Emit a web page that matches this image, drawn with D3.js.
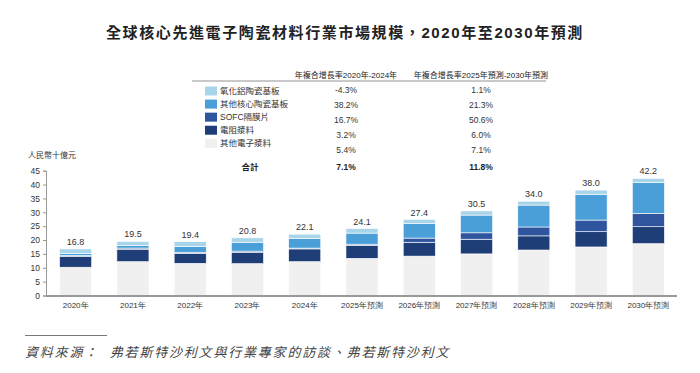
<!DOCTYPE html>
<html>
<head>
<meta charset="utf-8">
<script src="https://cdn.jsdelivr.net/npm/d3@7"></script>
<style>
    body { margin: 0; background: #fff; }
    svg { font-family: "Liberation Sans", Arial, "Noto Sans CJK TC", sans-serif; }
</style>
</head>
<body>
<svg id="chart" width="700" height="373"></svg>
<script>
'use strict';

// chart data
const years = ['2020年', '2021年', '2022年', '2023年', '2024年', '2025年預測', '2026年預測', '2027年預測', '2028年預測', '2029年預測', '2030年預測'];
const totals = [16.8, 19.5, 19.4, 20.8, 22.1, 24.1, 27.4, 30.5, 34.0, 38.0, 42.2];

// segments, bottom to top
const otherElectronic = [10.2, 12.2, 11.6, 11.5, 12.2, 13.4, 14.2, 15.0, 16.4, 17.5, 18.7];
const resistorPaste = [3.9, 4.5, 3.6, 4.1, 4.6, 4.7, 5.0, 5.3, 5.1, 5.5, 6.1];
const sofcMembrane = [0.3, 0.4, 0.4, 0.4, 0.3, 0.4, 1.5, 2.3, 3.2, 4.2, 4.8];
const otherCoreSubstrate = [0.8, 0.9, 2.0, 3.2, 3.5, 4.0, 5.2, 6.4, 7.9, 9.3, 11.1];
const aluminaSubstrate = [1.6, 1.5, 1.8, 1.6, 1.5, 1.6, 1.5, 1.5, 1.4, 1.5, 1.5];

// legend / CAGR table
const seriesNames = ['氧化鋁陶瓷基板', '其他核心陶瓷基板', 'SOFC隔膜片', '電阻漿料', '其他電子漿料'];
const cagrHeaders = ['年複合增長率2020年-2024年', '年複合增長率2025年預測-2030年預測'];
const cagr2020_2024 = ['-4.3%', '38.2%', '16.7%', '3.2%', '5.4%'];
const cagr2025_2030 = ['1.1%', '21.3%', '50.6%', '6.0%', '7.1%'];
const cagrTotal = ['7.1%', '11.8%'];

const yTicks = [0, 5, 10, 15, 20, 25, 30, 35, 40, 45];

const colors = {
    alumina: '#a9d5ea',
    core: '#4a9fd9',
    sofc: '#30559f',
    resistor: '#1f3e78',
    other: '#f0f0f0'
};

const svg = d3.select('#chart');

// title
svg.append('text')
    .attr('x', 345)
    .attr('y', 38)
    .attr('text-anchor', 'middle')
    .attr('font-size', 15)
    .attr('font-weight', 'bold')
    .attr('letter-spacing', 1.6)
    .attr('fill', '#222')
    .text('全球核心先進電子陶瓷材料行業市場規模，2020年至2030年預測');

// build table rows for stacking
const keys = ['other', 'resistor', 'sofc', 'core', 'alumina'];
const rows = years.map((y, i) => ({
    year: y,
    other: otherElectronic[i],
    resistor: resistorPaste[i],
    sofc: sofcMembrane[i],
    core: otherCoreSubstrate[i],
    alumina: aluminaSubstrate[i],
    total: totals[i]
}));

const stacked = d3.stack().keys(keys)(rows);

// scales
const x = d3.scaleBand()
    .domain(years)
    .range([47, 677])
    .paddingInner(0.44)
    .paddingOuter(0.22);

const y = d3.scaleLinear()
    .domain([0, 45])
    .range([295.5, 170.7]);

// bars
svg.append('g')
    .selectAll('g')
    .data(stacked)
    .enter()
    .append('g')
    .attr('fill', d => colors[d.key])
    .selectAll('rect')
    .data(d => d)
    .enter()
    .append('rect')
    .attr('x', d => x(d.data.year))
    .attr('width', x.bandwidth())
    .attr('y', d => y(d[1]))
    .attr('height', d => y(d[0]) - y(d[1]))
    .attr('stroke', '#fff')
    .attr('stroke-width', 0.6);

// total labels
svg.append('g')
    .selectAll('text')
    .data(rows)
    .enter()
    .append('text')
    .attr('x', d => x(d.year) + x.bandwidth() / 2)
    .attr('y', d => y(d3.sum(keys, k => d[k])) - 4)
    .attr('text-anchor', 'middle')
    .attr('font-size', 9)
    .attr('fill', '#333')
    .text(d => d.total.toFixed(1));

// y axis
const yAxis = svg.append('g')
    .attr('transform', 'translate(46,0)')
    .call(d3.axisLeft(y).tickValues(yTicks).tickSize(3).tickPadding(3));
yAxis.select('.domain').attr('stroke', '#999');
yAxis.selectAll('.tick line').attr('stroke', '#999');
yAxis.selectAll('.tick text')
    .attr('font-size', 8.5)
    .attr('fill', '#333')
    .attr('font-family', null);

// x axis
const xAxis = svg.append('g')
    .attr('transform', 'translate(0,296)')
    .call(d3.axisBottom(x).tickSize(0).tickPadding(6));
xAxis.select('.domain')
    .attr('stroke', '#999')
    .attr('stroke-width', 2)
    .attr('d', 'M46,0H677');
xAxis.selectAll('.tick text')
    .attr('font-size', 8)
    .attr('fill', '#333')
    .attr('font-family', null);

// y axis unit
svg.append('text')
    .attr('x', 28)
    .attr('y', 158)
    .attr('font-size', 8)
    .attr('fill', '#333')
    .text('人民幣十億元');

// legend + CAGR table
const table = svg.append('g');
const col1 = 346;
const col2 = 481;

table.selectAll('text.head')
    .data(cagrHeaders)
    .enter()
    .append('text')
    .attr('class', 'head')
    .attr('x', (d, i) => i === 0 ? col1 : col2)
    .attr('y', 78)
    .attr('text-anchor', 'middle')
    .attr('font-size', 8)
    .attr('fill', '#222')
    .text(d => d);

table.append('line')
    .attr('x1', 192)
    .attr('x2', 546)
    .attr('y1', 81)
    .attr('y2', 81)
    .attr('stroke', '#777')
    .attr('stroke-width', 0.8);

const swatchColors = [colors.alumina, colors.core, colors.sofc, colors.resistor, colors.other];
const legendY = d3.scaleLinear().domain([0, 4]).range([91, 143.3]);

table.selectAll('rect.sw')
    .data(seriesNames)
    .enter()
    .append('rect')
    .attr('class', 'sw')
    .attr('x', 205)
    .attr('y', (d, i) => legendY(i) - 4.5)
    .attr('width', 12)
    .attr('height', 9)
    .attr('fill', (d, i) => swatchColors[i]);

table.selectAll('text.name')
    .data(seriesNames)
    .enter()
    .append('text')
    .attr('class', 'name')
    .attr('x', 220)
    .attr('y', (d, i) => legendY(i) + 3)
    .attr('font-size', 8.5)
    .attr('fill', '#333')
    .text(d => d);

// value rows sit a little lower than the legend rows
const valueY = [90, 104.5, 120, 135, 150];

table.selectAll('text.v1')
    .data(cagr2020_2024)
    .enter()
    .append('text')
    .attr('class', 'v1')
    .attr('x', col1)
    .attr('y', (d, i) => valueY[i] + 3)
    .attr('text-anchor', 'middle')
    .attr('font-size', 8.5)
    .attr('fill', '#333')
    .text(d => d);

table.selectAll('text.v2')
    .data(cagr2025_2030)
    .enter()
    .append('text')
    .attr('class', 'v2')
    .attr('x', col2)
    .attr('y', (d, i) => valueY[i] + 3)
    .attr('text-anchor', 'middle')
    .attr('font-size', 8.5)
    .attr('fill', '#333')
    .text(d => d);

table.append('text')
    .attr('x', 250)
    .attr('y', 170)
    .attr('text-anchor', 'middle')
    .attr('font-size', 8.5)
    .attr('font-weight', 'bold')
    .attr('fill', '#222')
    .text('合計');

table.selectAll('text.tot')
    .data(cagrTotal)
    .enter()
    .append('text')
    .attr('class', 'tot')
    .attr('x', (d, i) => i === 0 ? col1 : col2)
    .attr('y', 170)
    .attr('text-anchor', 'middle')
    .attr('font-size', 8.5)
    .attr('font-weight', 'bold')
    .attr('fill', '#222')
    .text(d => d);

// source footnote
svg.append('line')
    .attr('x1', 25)
    .attr('x2', 107)
    .attr('y1', 335.5)
    .attr('y2', 335.5)
    .attr('stroke', '#555')
    .attr('stroke-width', 0.8);

svg.append('text')
    .attr('x', 25)
    .attr('y', 357)
    .attr('font-size', 13)
    .attr('font-style', 'italic')
    .attr('letter-spacing', 1.8)
    .attr('fill', '#444')
    .attr('xml:space', 'preserve')
    .text('資料來源：  弗若斯特沙利文與行業專家的訪談、弗若斯特沙利文');
</script>
</body>
</html>
